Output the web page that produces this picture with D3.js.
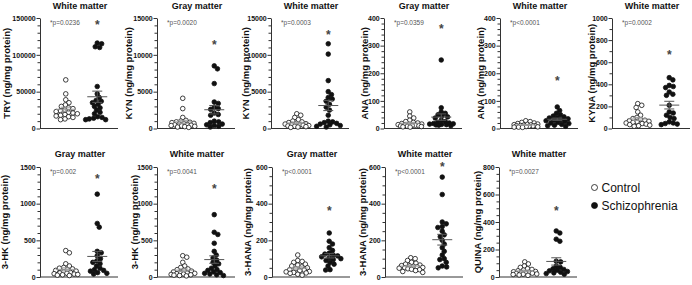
<!DOCTYPE html>
<html>
<head>
<meta charset="utf-8">
<script src="https://cdn.jsdelivr.net/npm/d3@7"></script>
<style>
  body { margin: 0; background: #fff; }
  svg { font-family: "Liberation Sans", Arial, sans-serif; }
</style>
</head>
<body>
<svg id="chart"></svg>
<script>
// ---- data ----
const titles = ['White matter', 'Gray matter', 'White matter', 'Gray matter', 'White matter', 'White matter',
                'Gray matter', 'White matter', 'Gray matter', 'White matter', 'White matter'];
const yLabels = ['TRY (ng/mg protein)', 'KYN (ng/mg protein)', 'KYN (ng/mg protein)', 'ANA (ng/mg protein)',
                 'ANA (ng/mg protein)', 'KYNA (ng/mg protein)', '3-HK (ng/mg protein)', '3-HK (ng/mg protein)',
                 '3-HANA (ng/mg protein)', '3-HANA (ng/mg protein)', 'QUINA (ng/mg protein)'];
const yMax = [150000, 15000, 15000, 400, 400, 1000, 1500, 1500, 600, 600, 800];
const majorStep = [50000, 5000, 5000, 100, 100, 200, 500, 500, 200, 200, 200];
const minorStep = [10000, 1000, 1000, 20, 20, 100, 100, 100, 50, 50, 50];
const pTexts = ['*p=0.0236', '*p=0.0020', '*p=0.0003', '*p=0.0359', '*p<0.0001', '*p=0.0002',
                '*p=0.002', '*p=0.0041', '*p<0.0001', '*p<0.0001', '*p=0.0027'];
const starValues = [142800, 11660, 12900, 368, 179, 686, 1366, 1225, 369, 609, 492];

const controlValues = [
  [66000, 47000, 39000, 35000, 32000, 30000, 28000, 27000, 25000, 24000, 23000, 22000, 21000, 20000, 19000, 18000, 17000, 16000, 15000, 13000, 12000],
  [4100, 2700, 1500, 1100, 1000, 900, 850, 800, 700, 650, 600, 550, 500, 450, 400, 350, 300, 250, 200, 150],
  [2000, 1800, 1500, 1200, 1000, 900, 800, 700, 650, 600, 550, 500, 450, 400, 350, 300, 250, 200, 150],
  [60, 45, 38, 30, 25, 22, 20, 18, 16, 15, 14, 13, 12, 11, 10, 9, 8, 7, 6, 5],
  [28, 25, 22, 20, 18, 16, 15, 14, 13, 12, 11, 10, 10, 9, 8, 7, 6, 5, 5, 4],
  [225, 210, 190, 150, 120, 100, 90, 80, 75, 70, 65, 60, 55, 50, 45, 40, 35, 30, 25, 20],
  [360, 330, 180, 150, 130, 120, 110, 100, 90, 80, 70, 60, 55, 50, 45, 40, 35, 30, 25, 20],
  [290, 270, 200, 150, 130, 110, 100, 90, 80, 70, 60, 55, 50, 45, 40, 35, 30, 25, 20, 15],
  [120, 90, 85, 80, 70, 65, 60, 55, 50, 45, 40, 38, 35, 30, 28, 25, 22, 20, 15, 10],
  [105, 100, 90, 80, 75, 70, 65, 62, 60, 58, 55, 52, 50, 48, 45, 42, 40, 35, 30, 25],
  [110, 95, 80, 70, 60, 55, 50, 45, 40, 38, 35, 32, 30, 28, 25, 22, 20, 18, 15, 12]
];
const schizoValues = [
  [116000, 115000, 111000, 110000, 57000, 47000, 42000, 38000, 37000, 35000, 33000, 30000, 28000, 25000, 22000, 20000, 16000, 15000, 14000, 13000, 12000, 12000],
  [8500, 8100, 6100, 3600, 3400, 2900, 2700, 2600, 2100, 1900, 1800, 1000, 900, 800, 600, 500, 400, 300, 200],
  [11500, 10100, 6500, 5000, 4600, 4200, 4000, 3700, 3300, 2900, 2500, 1800, 1000, 900, 800, 700, 600, 500, 400, 300, 200],
  [248, 75, 60, 55, 50, 45, 42, 38, 30, 25, 22, 20, 18, 17, 16, 15, 14, 13, 12, 10],
  [78, 65, 55, 50, 45, 42, 40, 38, 35, 32, 30, 28, 25, 22, 20, 18, 15, 12, 10, 8],
  [460, 440, 390, 380, 370, 330, 310, 300, 210, 150, 140, 120, 100, 90, 60, 50, 45, 40, 35],
  [1130, 730, 680, 350, 330, 290, 250, 220, 200, 180, 150, 120, 100, 90, 80, 60, 50, 40],
  [850, 610, 580, 460, 350, 300, 260, 230, 200, 180, 150, 120, 100, 90, 70, 60, 50, 40, 30, 20],
  [240, 195, 180, 160, 145, 130, 125, 120, 115, 110, 105, 100, 95, 90, 80, 70, 60, 40, 38],
  [545, 450, 300, 290, 275, 270, 250, 230, 220, 200, 180, 160, 140, 120, 100, 95, 80, 60, 55, 50],
  [335, 320, 275, 260, 115, 110, 80, 70, 60, 55, 50, 45, 40, 35, 30, 25, 20]
];
const legendLabels = ['Control', 'Schizophrenia'];

// ---- layout ----
const axisX = [40, 157, 271, 384, 500, 612, 40, 157, 272, 385, 499];
const labelShift = [-32, -27, -24, -18.5, -18.5, -19.5, -34, -21.5, -23, -21.5, -20];
const rowTop = [18, 167];
const rowBottom = [128.5, 277];

class DotPanel {
  constructor(_config, _control, _schizo) {
    this.config = {
      parentElement: _config.parentElement,
      left: _config.left,
      top: _config.top,
      width: _config.width || 78,
      height: _config.height,
      radius: 2.3
    };
    this.opts = _config;
    this.control = _control;
    this.schizo = _schizo;
    this.initVis();
  }

  initVis() {
    let vis = this;
    vis.chart = d3.select(vis.config.parentElement).append('g')
      .attr('transform', `translate(${vis.config.left},${vis.config.top})`);

    vis.yScale = d3.scaleLinear()
      .domain([0, vis.opts.yMax])
      .range([vis.config.height, 0]);

    vis.xScale = d3.scaleBand()
      .domain(['control', 'schizo'])
      .range([10, 73]);

    vis.renderVis();
  }

  // simple deterministic beeswarm, points stay near the column centre
  swarm(values, cx) {
    let vis = this;
    const r = vis.config.radius;
    const minD = 2 * r * 0.9;
    const placed = [];
    values.slice().sort((a, b) => b - a).forEach(v => {
      const y = vis.yScale(v);
      let best = null, bestScore = -1;
      for (let k = 0; k < 60; k++) {
        const dx = (k % 2 ? 1 : -1) * Math.ceil(k / 2) * 0.4;
        if (Math.abs(dx) > 12) break;
        let dmin = Infinity;
        placed.forEach(p => {
          dmin = Math.min(dmin, Math.hypot(cx + dx - p.x, y - p.y));
        });
        if (dmin >= minD) { best = dx; bestScore = Infinity; break; }
        if (dmin > bestScore) { bestScore = dmin; best = dx; }
      }
      placed.push({x: cx + best, y: y, v: v});
    });
    return placed;
  }

  renderVis() {
    let vis = this;
    const h = vis.config.height;
    const w = vis.config.width;

    // minor ticks
    const minor = d3.range(0, vis.opts.yMax + 1e-9, vis.opts.minorStep)
      .filter(v => Math.abs(v / vis.opts.majorStep - Math.round(v / vis.opts.majorStep)) > 1e-6);
    vis.chart.append('g')
      .attr('class', 'axis minor')
      .call(d3.axisLeft(vis.yScale).tickValues(minor).tickSize(2.5).tickSizeOuter(0).tickFormat(''))
      .call(g => g.select('.domain').remove());

    // major axis
    vis.chart.append('g')
      .attr('class', 'axis y-axis')
      .call(d3.axisLeft(vis.yScale)
        .tickValues(d3.range(0, vis.opts.yMax + 1e-9, vis.opts.majorStep))
        .tickSize(3.5).tickSizeOuter(0).tickPadding(0.8)
        .tickFormat(d3.format('d')))
      .call(g => g.selectAll('text')
        .attr('font-size', 7).attr('font-weight', 'bold')
        .attr('font-family', '"Liberation Sans", Arial, sans-serif').attr('fill', '#111'));

    vis.chart.selectAll('.axis line, .axis path').attr('stroke', '#333').attr('stroke-width', 1);

    // x baseline
    vis.chart.append('line')
      .attr('x1', 0).attr('x2', w).attr('y1', h).attr('y2', h)
      .attr('stroke', '#333').attr('stroke-width', 1);

    // title
    vis.chart.append('text')
      .attr('x', w / 2 + 1).attr('y', vis.opts.titleY)
      .attr('text-anchor', 'middle').attr('font-size', 9).attr('font-weight', 'bold')
      .attr('fill', '#111')
      .text(vis.opts.title);

    // y label
    vis.chart.append('text')
      .attr('transform', `translate(${vis.opts.labelShift + 2.4},${h / 2}) rotate(-90)`)
      .attr('text-anchor', 'middle').attr('font-size', 9.5).attr('font-weight', 'bold')
      .attr('fill', '#111')
      .text(vis.opts.yLabel);

    // p value
    vis.chart.append('text')
      .attr('x', 10).attr('y', 7)
      .attr('font-size', 6.5).attr('fill', '#555')
      .text(vis.opts.pText);

    const groups = [
      {key: 'control', values: vis.control, fill: '#fff', line: '#999'},
      {key: 'schizo', values: vis.schizo, fill: '#111', line: '#555'}
    ];

    groups.forEach(g => {
      const cx = vis.xScale(g.key) + vis.xScale.bandwidth() / 2;
      const pts = vis.swarm(g.values, cx);

      vis.chart.append('g').selectAll('circle')
        .data(pts)
        .join('circle')
          .attr('cx', d => d.x)
          .attr('cy', d => d.y)
          .attr('r', vis.config.radius)
          .attr('fill', g.fill)
          .attr('stroke', '#111')
          .attr('stroke-width', 0.8);

      // mean and SEM
      const mean = d3.mean(g.values);
      const sem = d3.deviation(g.values) / Math.sqrt(g.values.length);
      const eg = vis.chart.append('g').attr('stroke', g.line).attr('stroke-width', 1);
      eg.append('line')
        .attr('x1', cx - 10).attr('x2', cx + 10)
        .attr('y1', vis.yScale(mean)).attr('y2', vis.yScale(mean));
      eg.append('line')
        .attr('x1', cx).attr('x2', cx)
        .attr('y1', vis.yScale(mean - sem)).attr('y2', vis.yScale(mean + sem));
      [mean - sem, mean + sem].forEach(v => {
        eg.append('line')
          .attr('x1', cx - 5).attr('x2', cx + 5)
          .attr('y1', vis.yScale(v)).attr('y2', vis.yScale(v));
      });
    });

    // significance star above schizophrenia column
    vis.chart.append('text')
      .attr('x', vis.xScale('schizo') + vis.xScale.bandwidth() / 2)
      .attr('y', vis.yScale(vis.opts.star) + 6)
      .attr('text-anchor', 'middle').attr('font-size', 12).attr('font-weight', 'bold')
      .attr('fill', '#444')
      .text('*');
  }
}

const svg = d3.select('#chart').attr('width', 692).attr('height', 285);

titles.forEach((t, i) => {
  const row = i < 6 ? 0 : 1;
  new DotPanel({
    parentElement: '#chart',
    left: axisX[i],
    top: rowTop[row],
    height: rowBottom[row] - rowTop[row],
    yMax: yMax[i],
    majorStep: majorStep[i],
    minorStep: minorStep[i],
    title: t,
    titleY: row === 0 ? -9.5 : -10.5,
    yLabel: yLabels[i],
    labelShift: labelShift[i],
    pText: pTexts[i],
    star: starValues[i]
  }, controlValues[i], schizoValues[i]);
});

// legend
const legend = svg.append('g').attr('transform', 'translate(594.5,187.5)');
legendLabels.forEach((lab, i) => {
  legend.append('circle')
    .attr('cx', 0).attr('cy', i * 18).attr('r', 3)
    .attr('fill', i === 0 ? '#fff' : '#111')
    .attr('stroke', '#111').attr('stroke-width', 0.8);
  legend.append('text')
    .attr('x', 7).attr('y', i * 18 + 4.3)
    .attr('font-size', 12).attr('fill', '#111')
    .text(lab);
});
</script>
</body>
</html>
